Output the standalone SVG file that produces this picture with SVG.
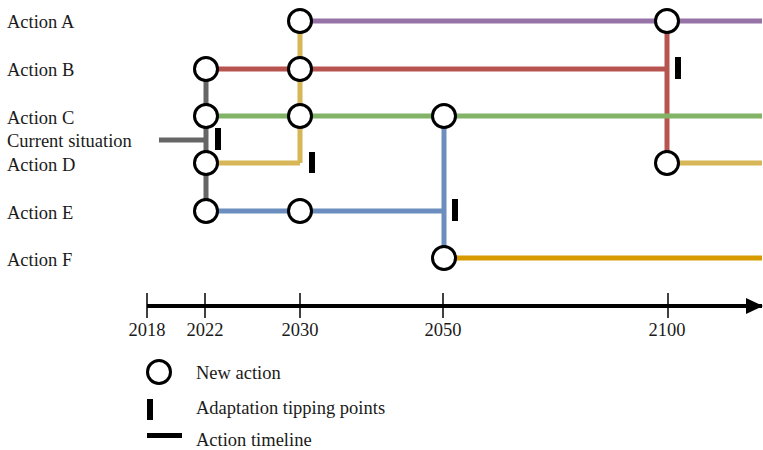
<svg xmlns="http://www.w3.org/2000/svg" width="763" height="450" viewBox="0 0 763 450">
  <style>
    text { font-family: "Liberation Serif", "Times New Roman", serif; font-size: 18.5px; fill: #1a1a1a; }
    .yr { text-anchor: middle; }
    .path { fill: none; stroke-width: 5; stroke-linecap: butt; }
    .node { fill: #ffffff; stroke: #000000; stroke-width: 3; }
    .tip { fill: #000000; }
    .gray { stroke: #666666; }
    .purple { stroke: #9673A6; }
    .red { stroke: #B85450; }
    .green { stroke: #82B366; }
    .yellow { stroke: #D6B656; }
    .blue { stroke: #6C8EBF; }
    .orange { stroke: #D79B00; }
    .axis { stroke: #000000; stroke-width: 4; fill: none; }
    .tick { stroke: #000000; stroke-width: 1.5; }
  </style>
  <defs>
    <marker id="arrow" markerWidth="17" markerHeight="16" refX="16" refY="8" orient="auto" markerUnits="userSpaceOnUse" viewBox="0 0 17 16">
      <path d="M0,0 L17,8 L0,16 Z" fill="#000000"/>
    </marker>
  </defs>

  <!-- row labels -->
  <g id="labels">
    <text x="7" y="28">Action A</text>
    <text x="7" y="76">Action B</text>
    <text x="7" y="123.5">Action C</text>
    <text x="7" y="146.5">Current situation</text>
    <text x="7" y="171">Action D</text>
    <text x="7" y="218.5">Action E</text>
    <text x="7" y="266">Action F</text>
  </g>

  <!-- pathway lines -->
  <g id="connectors">
    <path class="path gray" d="M159,140 H206 M206,69 V211"/>
    <path class="path purple" d="M300,21 H762"/>
    <path class="path red" d="M206,69 H667 M667,21 V163"/>
    <path class="path green" d="M206,116 H762"/>
    <path class="path yellow" d="M300,21 V163 M206,163 H300 M667,163 H762"/>
    <path class="path blue" d="M206,211 H444 M444,116 V258"/>
    <path class="path orange" d="M444,258 H762"/>
  </g>

  <!-- new-action nodes -->
  <g id="n-a-2030"><circle class="node" cx="300" cy="21" r="11.5"/></g>
  <g id="n-a-2100"><circle class="node" cx="667" cy="21" r="11.5"/></g>
  <g id="n-b-2022"><circle class="node" cx="206" cy="69" r="11.5"/></g>
  <g id="n-b-2030"><circle class="node" cx="300" cy="69" r="11.5"/></g>
  <g id="n-c-2022"><circle class="node" cx="206" cy="116" r="11.5"/></g>
  <g id="n-c-2030"><circle class="node" cx="300" cy="116" r="11.5"/></g>
  <g id="n-c-2050"><circle class="node" cx="444" cy="116" r="11.5"/></g>
  <g id="n-d-2022"><circle class="node" cx="206" cy="163" r="11.5"/></g>
  <g id="n-d-2100"><circle class="node" cx="667" cy="163" r="11.5"/></g>
  <g id="n-e-2022"><circle class="node" cx="206" cy="211" r="11.5"/></g>
  <g id="n-e-2030"><circle class="node" cx="300" cy="211" r="11.5"/></g>
  <g id="n-f-2050"><circle class="node" cx="444" cy="258" r="11.5"/></g>

  <!-- adaptation tipping points -->
  <g id="tipping-points">
    <rect class="tip" x="215" y="128" width="6" height="22"/>
    <rect class="tip" x="309" y="152" width="6" height="21"/>
    <rect class="tip" x="452" y="199" width="6" height="22"/>
    <rect class="tip" x="675" y="57" width="6" height="22"/>
  </g>

  <!-- time axis -->
  <g id="axis">
    <line class="axis" x1="147" y1="306" x2="762" y2="306" marker-end="url(#arrow)"/>
    <line class="tick" x1="147" y1="293" x2="147" y2="318"/>
    <line class="tick" x1="205" y1="293" x2="205" y2="318"/>
    <line class="tick" x1="300" y1="293" x2="300" y2="318"/>
    <line class="tick" x1="443" y1="293" x2="443" y2="318"/>
    <line class="tick" x1="668" y1="293" x2="668" y2="318"/>
    <text class="yr" x="147" y="336">2018</text>
    <text class="yr" x="205" y="336">2022</text>
    <text class="yr" x="300" y="336">2030</text>
    <text class="yr" x="443" y="336">2050</text>
    <text class="yr" x="667" y="336">2100</text>
  </g>

  <!-- legend -->
  <g id="legend">
    <circle class="node" cx="159" cy="372" r="11.5"/>
    <text x="196" y="379">New action</text>
    <rect class="tip" x="147" y="399" width="6" height="21"/>
    <text x="196" y="414">Adaptation tipping points</text>
    <rect class="tip" x="147" y="433" width="35" height="5"/>
    <text x="196" y="446">Action timeline</text>
  </g>
</svg>
